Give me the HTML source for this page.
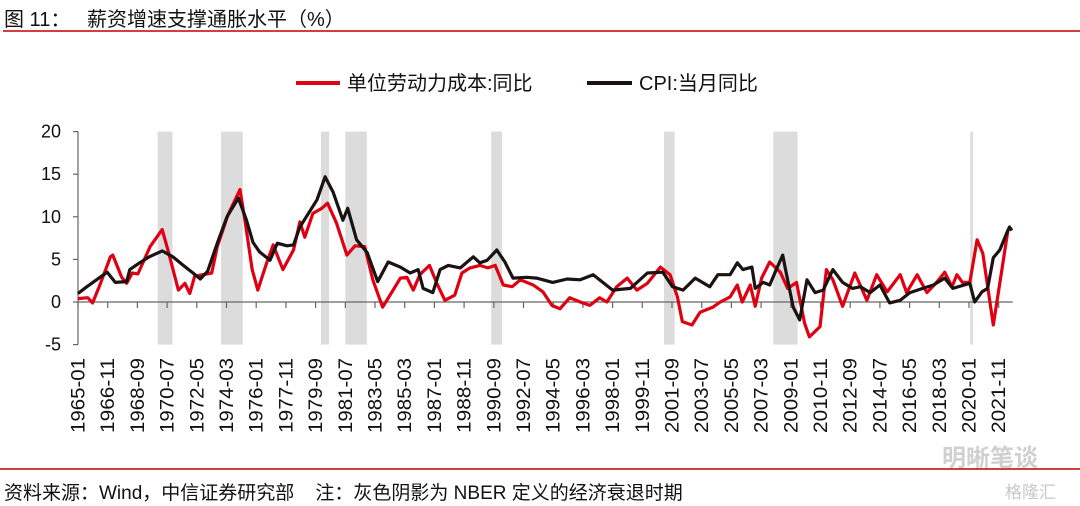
<!DOCTYPE html>
<html><head><meta charset="utf-8">
<style>
body{margin:0;background:#fff;}
svg{display:block;font-family:"Liberation Sans","Noto Sans CJK SC",sans-serif;}
.pre{white-space:pre;}
</style></head>
<body>
<svg id="chart" width="1080" height="506" viewBox="0 0 1080 506" xmlns="http://www.w3.org/2000/svg">
<text class="pre" x="4" y="26" font-size="20" fill="#111">图 11：   薪资增速支撑通胀水平（%）</text>
<line x1="3" y1="31" x2="1080" y2="31" stroke="#c00000" stroke-width="1.5"/>
<g>
<line x1="296" y1="83" x2="340" y2="83" stroke="#e00012" stroke-width="4"/>
<text x="347" y="90" font-size="20" fill="#111">单位劳动力成本:同比</text>
<line x1="587" y1="83" x2="632" y2="83" stroke="#1a1311" stroke-width="4"/>
<text x="639" y="90" font-size="20" fill="#111">CPI:当月同比</text>
</g>
<g id="shade"></g>
<g id="axes"></g>
<g id="series"></g>
<text x="942" y="466" font-size="24" fill="#d0d0d0" font-weight="bold">明晰笔谈</text>
<line x1="0" y1="469" x2="1080" y2="469" stroke="#c00000" stroke-width="1.5"/>
<text class="pre" x="4" y="499" font-size="19" fill="#111">资料来源：Wind，中信证券研究部    注：灰色阴影为 NBER 定义的经济衰退时期</text>
<text x="1005" y="498" font-size="17" fill="#c8c8c8">格隆汇</text>
</svg>
<script>
// ---- data ----
const yTicks = [20, 15, 10, 5, 0, -5];
const xTickLabels = ["1965-01","1966-11","1968-09","1970-07","1972-05","1974-03","1976-01","1977-11","1979-09","1981-07","1983-05","1985-03","1987-01","1988-11","1990-09","1992-07","1994-05","1996-03","1998-01","1999-11","2001-09","2003-07","2005-05","2007-03","2009-01","2010-11","2012-09","2014-07","2016-05","2018-03","2020-01","2021-11"];
const recStart = [1969.92, 1973.83, 1980.0, 1981.5, 1990.5, 2001.17, 2007.92, 2020.08];
const recEnd = [1970.83, 1975.17, 1980.5, 1982.83, 1991.17, 2001.83, 2009.42, 2020.25];
const cpiDates = [1965.0,1965.55,1966.8,1967.3,1968.0,1968.2,1968.8,1969.4,1970.2,1970.85,1971.5,1972.1,1972.55,1973.0,1973.6,1974.2,1974.9,1975.4,1975.8,1976.2,1976.85,1977.3,1977.9,1978.3,1978.7,1979.75,1980.25,1980.75,1981.35,1981.65,1982.2,1982.85,1983.5,1984.15,1984.9,1985.5,1986.0,1986.3,1986.9,1987.35,1987.85,1988.6,1989.4,1989.8,1990.25,1990.85,1991.35,1991.85,1992.7,1993.3,1994.3,1995.2,1996.0,1996.8,1998.0,1999.1,2000.15,2001.1,2001.7,2002.35,2003.1,2004.0,2004.5,2005.25,2005.7,2006.05,2006.6,2006.8,2007.3,2007.7,2008.15,2008.5,2008.8,2009.15,2009.55,2010.0,2010.5,2011.0,2011.6,2012.2,2012.8,2013.3,2013.9,2014.5,2015.1,2015.75,2016.35,2017.15,2017.8,2018.5,2019.0,2020.05,2020.35,2020.8,2021.15,2021.5,2021.9,2022.35,2022.5,2022.65];
const cpiValues = [1.0,1.8,3.5,2.3,2.4,3.8,4.6,5.3,6.0,5.3,4.3,3.4,2.7,3.6,6.9,10.0,12.2,9.6,7.0,5.9,4.9,6.9,6.6,6.7,8.8,12.0,14.7,12.9,9.6,11.0,7.3,5.8,2.4,4.7,4.1,3.4,3.8,1.6,1.1,3.8,4.3,4.0,5.3,4.6,4.9,6.1,4.7,2.8,2.9,2.8,2.3,2.7,2.6,3.2,1.4,1.6,3.4,3.5,1.8,1.4,2.8,1.8,3.2,3.2,4.6,3.8,4.1,1.6,2.3,2.0,4.0,5.5,2.6,-0.6,-2.1,2.6,1.1,1.4,3.8,2.3,1.6,1.8,1.1,2.0,-0.1,0.2,1.1,1.6,2.0,2.8,1.6,2.2,0.0,1.2,1.6,5.2,6.1,8.2,8.8,8.4];
const ulcDates = [1965.0,1965.6,1965.9,1966.35,1967.0,1967.15,1967.7,1968.0,1968.35,1968.7,1969.45,1970.2,1970.55,1971.2,1971.6,1971.9,1972.2,1972.7,1973.25,1973.6,1974.25,1975.0,1975.3,1975.75,1976.1,1976.65,1977.05,1977.65,1978.3,1978.7,1979.0,1979.5,1980.05,1980.4,1980.95,1981.6,1982.1,1982.7,1983.2,1983.8,1984.45,1984.9,1985.3,1985.7,1986.1,1986.7,1987.15,1987.65,1988.25,1988.7,1989.2,1989.8,1990.3,1990.75,1991.25,1991.8,1992.3,1993.1,1993.7,1994.25,1994.75,1995.35,1996.0,1996.6,1997.2,1997.65,1998.25,1998.9,1999.5,2000.15,2000.95,2001.55,2002.0,2002.3,2002.9,2003.4,2004.2,2004.65,2005.25,2005.7,2006.0,2006.5,2006.8,2007.2,2007.7,2008.35,2008.8,2009.35,2009.85,2010.15,2010.8,2011.2,2011.6,2012.2,2012.95,2013.7,2014.3,2014.95,2015.75,2016.15,2016.8,2017.4,2018.0,2018.5,2018.95,2019.25,2019.6,2020.05,2020.5,2020.85,2021.5,2021.9,2022.4];
const ulcValues = [0.4,0.5,-0.1,2.0,5.3,5.5,2.9,2.2,3.4,3.3,6.5,8.5,6.1,1.4,2.2,1.0,3.0,3.2,3.4,6.5,10.2,13.2,9.6,3.8,1.4,4.6,6.7,3.8,6.1,9.4,7.6,10.4,11.0,11.6,9.3,5.5,6.6,6.5,2.6,-0.6,1.4,2.8,2.9,1.4,3.2,4.3,2.2,0.2,0.8,3.4,4.0,4.3,4.0,4.3,2.0,1.8,2.6,2.0,1.2,-0.4,-0.8,0.5,0.0,-0.4,0.5,0.0,1.8,2.8,1.4,2.2,4.1,3.2,0.6,-2.3,-2.7,-1.2,-0.6,0,0.6,2.0,0,2.0,-0.5,2.8,4.7,3.5,1.6,2.3,-2.5,-4.1,-2.9,3.8,2.6,-0.5,3.4,0.2,3.2,1.2,3.2,1.1,3.2,1.1,2.3,3.5,1.8,3.2,2.3,2.3,7.3,5.7,-2.7,2.2,8.4];

// ---- scales ----
const NS = "http://www.w3.org/2000/svg";
const X0 = 78, PXM = 1.35, Y0 = 302, PXU = 8.52;
const xs = t => X0 + (t - 1965) * 12 * PXM;
const ys = v => Y0 - v * PXU;
function mk(tag, parent, attrs){const e=document.createElementNS(NS,tag);for(const k in attrs)e.setAttribute(k,attrs[k]);parent.appendChild(e);return e;}

const shade = document.getElementById('shade');
recStart.forEach((s,i)=>{
  const r = mk('rect', shade, {x:xs(s), y:ys(20), width:xs(recEnd[i])-xs(s), height:ys(-5)-ys(20), fill:'#dcdcdc'});
  
  
});

const axes = document.getElementById('axes');
const ya = mk('line', axes, {x1:X0, y1:ys(20), x2:X0, y2:ys(-5), stroke:'#666', 'stroke-width':1.2});


yTicks.forEach(v=>{
  const t = mk('line', axes, {x1:X0-5, y1:ys(v), x2:X0, y2:ys(v), stroke:'#666', 'stroke-width':1.2});
  
  
  const l = mk('text', axes, {x:61, y:ys(v)+6, 'font-size':18, 'text-anchor':'end', fill:'#111'});
  l.textContent = v;
  
  
});
const xEnd = xs(2022.7);
const xa = mk('line', axes, {x1:X0, y1:Y0, x2:xEnd, y2:Y0, stroke:'#666', 'stroke-width':1.2});


xTickLabels.forEach(lbl=>{
  const [yy,mm] = lbl.split('-').map(Number);
  const x = xs(yy + (mm-1)/12);
  const t = mk('line', axes, {x1:x, y1:Y0, x2:x, y2:Y0+6, stroke:'#666', 'stroke-width':1.2});
  
  
  const l = mk('text', axes, {x:0, y:0, 'font-size':19, 'text-anchor':'end', fill:'#111', textLength:75, lengthAdjust:'spacingAndGlyphs', transform:`translate(${x+6.5},358) rotate(-90)`});
  l.textContent = lbl;
  
  
});

const series = document.getElementById('series');
function path(dates, vals){return dates.map((d,i)=>(i?'L':'M')+xs(d).toFixed(1)+','+ys(vals[i]).toFixed(1)).join(' ');}
const pu = mk('path', series, {d:path(ulcDates, ulcValues), fill:'none', stroke:'#e00012', 'stroke-width':3.2, 'stroke-linejoin':'round'});


const pc = mk('path', series, {d:path(cpiDates, cpiValues), fill:'none', stroke:'#1a1311', 'stroke-width':3.2, 'stroke-linejoin':'round'});


</script>
</body></html>
